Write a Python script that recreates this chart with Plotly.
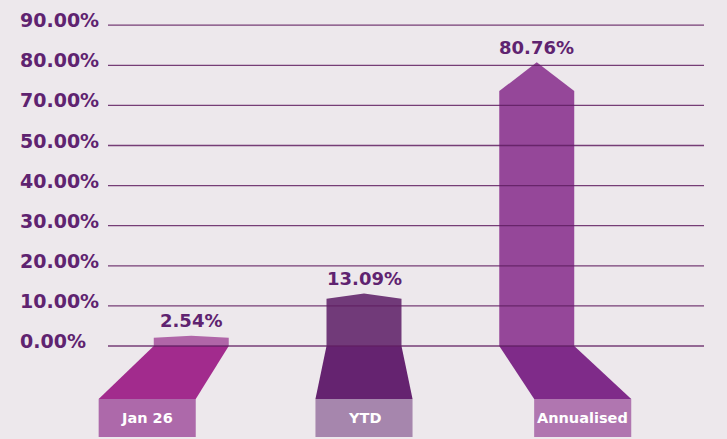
import numpy as np
import plotly.graph_objects as go

# ---- data ----
categories = ["Jan 26", "YTD", "Annualised"]
values = [2.54, 13.09, 80.76]
tick_values = [0, 10, 20, 30, 40, 50, 70, 80, 90]
tick_labels = ["0.00%", "10.00%", "20.00%", "30.00%", "40.00%", "50.00%",
               "70.00%", "80.00%", "90.00%"]

# ---- style ----
W, H = 727, 439
BG = "#ede8ec"
TXT = "#5f2370"
body_colors = ["#b066a8", "#713a79", "#954799"]
base_colors = ["#a22b8d", "#652370", "#7f2b89"]
box_colors = ["#ad69aa", "#a686ad", "#b076b0"]
tip_heights = [0.05, 0.13, 0.72]      # arrow tip height (grid units)
base_offsets = [-0.255, 0.0, 0.266]   # shift of label box relative to bar
bar_half = 0.217
base_half = 0.281
base_bottom = -1.32
box_bottom = -2.27
FONT = "DejaVu Sans"

grid_pos = list(range(len(tick_values)))

def ypos(v):
    # position on the (evenly spaced, labelled) grid
    return float(np.interp(v, tick_values, grid_pos))

fig = go.Figure()

for i, (cat, v) in enumerate(zip(categories, values)):
    x = i
    yv = ypos(v)
    sh = yv - tip_heights[i]
    bc = x + base_offsets[i]
    # base trapezoid
    fig.add_trace(go.Scatter(
        x=[x - bar_half, x + bar_half, bc + base_half, bc - base_half, x - bar_half],
        y=[0, 0, base_bottom, base_bottom, 0],
        fill="toself", fillcolor=base_colors[i], mode="lines",
        line=dict(width=0, color=base_colors[i]), hoverinfo="skip", showlegend=False))
    # label box
    fig.add_trace(go.Scatter(
        x=[bc - base_half, bc + base_half, bc + base_half, bc - base_half, bc - base_half],
        y=[base_bottom, base_bottom, box_bottom, box_bottom, base_bottom],
        fill="toself", fillcolor=box_colors[i], mode="lines",
        line=dict(width=0, color=box_colors[i]), hoverinfo="skip", showlegend=False))
    # arrow body
    fig.add_trace(go.Scatter(
        x=[x - bar_half, x - bar_half, x, x + bar_half, x + bar_half, x - bar_half],
        y=[0, sh, yv, sh, 0, 0],
        fill="toself", fillcolor=body_colors[i], mode="lines",
        line=dict(width=0, color=body_colors[i]), hoverinfo="skip", showlegend=False))
    # value label
    fig.add_annotation(x=x, y=yv, xref="x", yref="y", text=f"<b>{v:.2f}%</b>",
                       showarrow=False, yanchor="middle", yshift=15,
                       font=dict(family=FONT, size=18, color=TXT))
    # category label
    fig.add_annotation(x=bc, y=(base_bottom + box_bottom) / 2, xref="x", yref="y",
                       text=f"<b>{cat}</b>", showarrow=False,
                       font=dict(family=FONT, size=14.5, color="white"))

L, R = 90, 23
PW = W - L - R
grid_x0 = (108 - L) / PW

# gridlines above the bars
for p in grid_pos:
    fig.add_shape(type="line", xref="paper", yref="y", x0=grid_x0, x1=1, y0=p, y1=p,
                  line=dict(color="rgba(96,30,98,0.85)", width=1.3), layer="above")

# tick labels (left-aligned)
for p, lab in zip(grid_pos, tick_labels):
    fig.add_annotation(x=(18 - L) / PW, y=p, xref="paper", yref="y", text=f"<b>{lab}</b>",
                       showarrow=False, xanchor="left", yanchor="middle", yshift=5,
                       font=dict(family=FONT, size=19, color=TXT))

unit = 40.1
y_top = 346 / unit
y_bot = -(H - 346) / unit
xu = 172.75
x0px = 191.25
fig.update_layout(
    width=W, height=H,
    margin=dict(l=L, r=R, t=0, b=0),
    paper_bgcolor=BG, plot_bgcolor=BG,
    xaxis=dict(range=[(L - x0px) / xu, (W - R - x0px) / xu], visible=False, fixedrange=True),
    yaxis=dict(range=[y_bot, y_top], visible=False, fixedrange=True),
    showlegend=False,
)

fig.write_html(
    "out.html",
    config={"displayModeBar": False},
    post_script="document.body.style.margin='0';document.body.style.background='" + BG + "';",
)
